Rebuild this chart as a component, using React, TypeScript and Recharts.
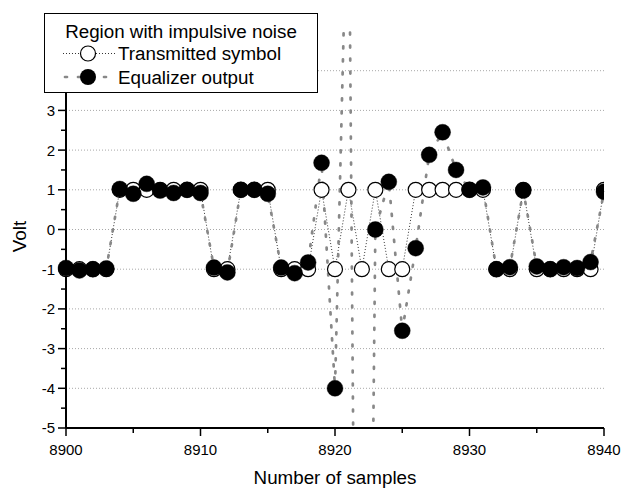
import React from "react";
import { LineChart, Line, XAxis, YAxis, CartesianGrid } from "recharts";

// sample index on the x axis
const samples = [
  8900, 8901, 8902, 8903, 8904, 8905, 8906, 8907, 8908, 8909, 8910,
  8911, 8912, 8913, 8914, 8915, 8916, 8917, 8918, 8919, 8920,
  8921, 8922, 8923, 8924, 8925, 8926, 8927, 8928, 8929, 8930,
  8931, 8932, 8933, 8934, 8935, 8936, 8937, 8938, 8939, 8940,
];

const transmitted = [
  -1, -1, -1, -1, 1, 1, 1, 1, 1, 1, 1,
  -1, -1, 1, 1, 1, -1, -1, -1, 1, -1,
  1, -1, 1, -1, -1, 1, 1, 1, 1, 1,
  1, -1, -1, 1, -1, -1, -1, -1, -1, 1,
];

// 8921 / 8922 are off the chart (impulse), only the line shows them
const equalizer = [
  -0.97, -1.03, -1.0, -0.98, 1.02, 0.9, 1.15, 0.98, 0.92, 1.0, 0.92,
  -0.96, -1.08, 1.0, 1.0, 0.9, -0.96, -1.1, -0.83, 1.68, -4.0,
  10, -33, 0.0, 1.2, -2.55, -0.47, 1.88, 2.45, 1.5, 1.0,
  1.06, -1.0, -0.95, 0.98, -0.93, -1.0, -0.95, -0.97, -0.82, 0.95,
];

const seriesNames = ["Transmitted symbol", "Equalizer output"];
const legendTitle = "Region with impulsive noise";

const xTicks = [8900, 8905, 8910, 8915, 8920, 8925, 8930, 8935, 8940];
const yTicks = [-5, -4.5, -4, -3.5, -3, -2.5, -2, -1.5, -1, -0.5, 0, 0.5, 1, 1.5, 2, 2.5, 3, 3.5, 4, 4.5, 5];
const gridLevels = [-4, -3, -2, -1, 0, 1, 2, 3, 4];

const rows = samples.map((n, i) => ({ n, tx: transmitted[i], eq: equalizer[i] }));

const FONT = '"Liberation Sans", Arial, sans-serif';
const GRAY = "#888888";
const W = 621;
const H = 488;
const MARGIN = { top: 31, right: 17, bottom: 0, left: 0 };
const PLOT_RIGHT = W - MARGIN.right;

function XTick({ x, y, payload }: any) {
  const major = payload.value % 10 === 0;
  return (
    <g>
      <line x1={x} x2={x} y1={y} y2={y + (major ? 8 : 5)} stroke="#000" strokeWidth={1.5} />
      {major && (
        <text x={x} y={y + 27} textAnchor="middle" fontSize={15} fill="#000">
          {payload.value}
        </text>
      )}
    </g>
  );
}

function YTick({ x, y, payload }: any) {
  const major = Number.isInteger(payload.value);
  return (
    <g>
      <line x1={x - (major ? 8 : 5)} x2={x} y1={y} y2={y} stroke="#000" strokeWidth={1.5} />
      {major && (
        <text x={x - 11} y={y + 5.4} textAnchor="end" fontSize={15} fill="#000">
          {payload.value}
        </text>
      )}
    </g>
  );
}

// symbols are cut at the right frame only (like the original plot)
function makeDot(fill: string, r: number, sw: number) {
  return (props: any) => {
    const { cx, cy, index } = props;
    if (cx == null || cy == null) return <g key={index} />;
    return (
      <g key={index}>
        {index === 0 && (
          <defs>
            <clipPath id="rightCut">
              <rect x={-2000} y={-2000} width={2000 + PLOT_RIGHT} height={5000} />
            </clipPath>
          </defs>
        )}
        <circle cx={cx} cy={cy} r={r} fill={fill} stroke="#000" strokeWidth={sw} clipPath="url(#rightCut)" />
      </g>
    );
  };
}

function LegendBox() {
  return (
    <svg width={274} height={80} style={{ position: "absolute", left: 44, top: 13, fontFamily: FONT }}>
      <rect x={0.5} y={0.5} width={273} height={79} fill="#fff" stroke="#000" />
      <text x={137} y={24.7} textAnchor="middle" fontSize={18.8}>
        {legendTitle}
      </text>
      <line x1={19} x2={73} y1={40.5} y2={40.5} stroke="#000" strokeWidth={0.8} strokeDasharray="1 2" />
      <circle cx={44} cy={40.5} r={7.5} fill="#fff" stroke="#000" strokeWidth={1.2} />
      <text x={74} y={47.2} fontSize={18.8}>
        {seriesNames[0]}
      </text>
      <line x1={21} x2={70} y1={64} y2={64} stroke={GRAY} strokeWidth={2.7} strokeDasharray="2 11" strokeLinecap="round" />
      <circle cx={44} cy={64} r={8} fill="#000" />
      <text x={74} y={70.7} fontSize={18.8}>
        {seriesNames[1]}
      </text>
    </svg>
  );
}

export default function App() {
  return (
    <div style={{ position: "absolute", left: 0, top: 0, width: W, height: H, background: "#fff", fontFamily: FONT }}>
      <LineChart width={W} height={H} data={rows} margin={MARGIN}>
        <CartesianGrid vertical={false} horizontalValues={gridLevels} stroke="#a8a8a8" strokeDasharray="1 2" />
        <XAxis
          dataKey="n"
          type="number"
          domain={[8900, 8940]}
          ticks={xTicks}
          interval={0}
          height={60}
          tickSize={0}
          tickMargin={0}
          tick={<XTick />}
          tickLine={false}
          axisLine={{ stroke: "#000", strokeWidth: 2 }}
          label={{
            content: (p: any) => {
              const vb = p.viewBox || { x: 66, y: 428, width: 538, height: 60 };
              return (
                <text x={vb.x + vb.width / 2} y={vb.y + 56} textAnchor="middle" fontSize={18.8} fill="#000">
                  Number of samples
                </text>
              );
            },
          }}
        />
        <YAxis
          type="number"
          domain={[-5, 5]}
          allowDataOverflow
          ticks={yTicks}
          interval={0}
          width={66}
          tickSize={0}
          tickMargin={0}
          tick={<YTick />}
          tickLine={false}
          axisLine={{ stroke: "#000", strokeWidth: 2 }}
          label={{
            content: (p: any) => {
              const vb = p.viewBox || { x: 0, y: 31, width: 66, height: 397 };
              const cx = vb.x + 26;
              const cy = vb.y + vb.height / 2 + 7;
              return (
                <text x={cx} y={cy} transform={`rotate(-90 ${cx} ${cy})`} textAnchor="middle" fontSize={18.8} fill="#000">
                  Volt
                </text>
              );
            },
          }}
        />
        <Line
          type="linear"
          dataKey="tx"
          name={seriesNames[0]}
          stroke="#000"
          strokeWidth={0.8}
          strokeDasharray="1 2"
          dot={makeDot("#fff", 7.5, 1.2)}
          activeDot={false}
          isAnimationActive={false}
        />
        <Line
          type="linear"
          dataKey="eq"
          name={seriesNames[1]}
          stroke={GRAY}
          strokeWidth={2.7}
          strokeDasharray="2 11"
          strokeLinecap="round"
          dot={makeDot("#000", 8, 0.4)}
          activeDot={false}
          isAnimationActive={false}
        />
      </LineChart>
      <LegendBox />
    </div>
  );
}
